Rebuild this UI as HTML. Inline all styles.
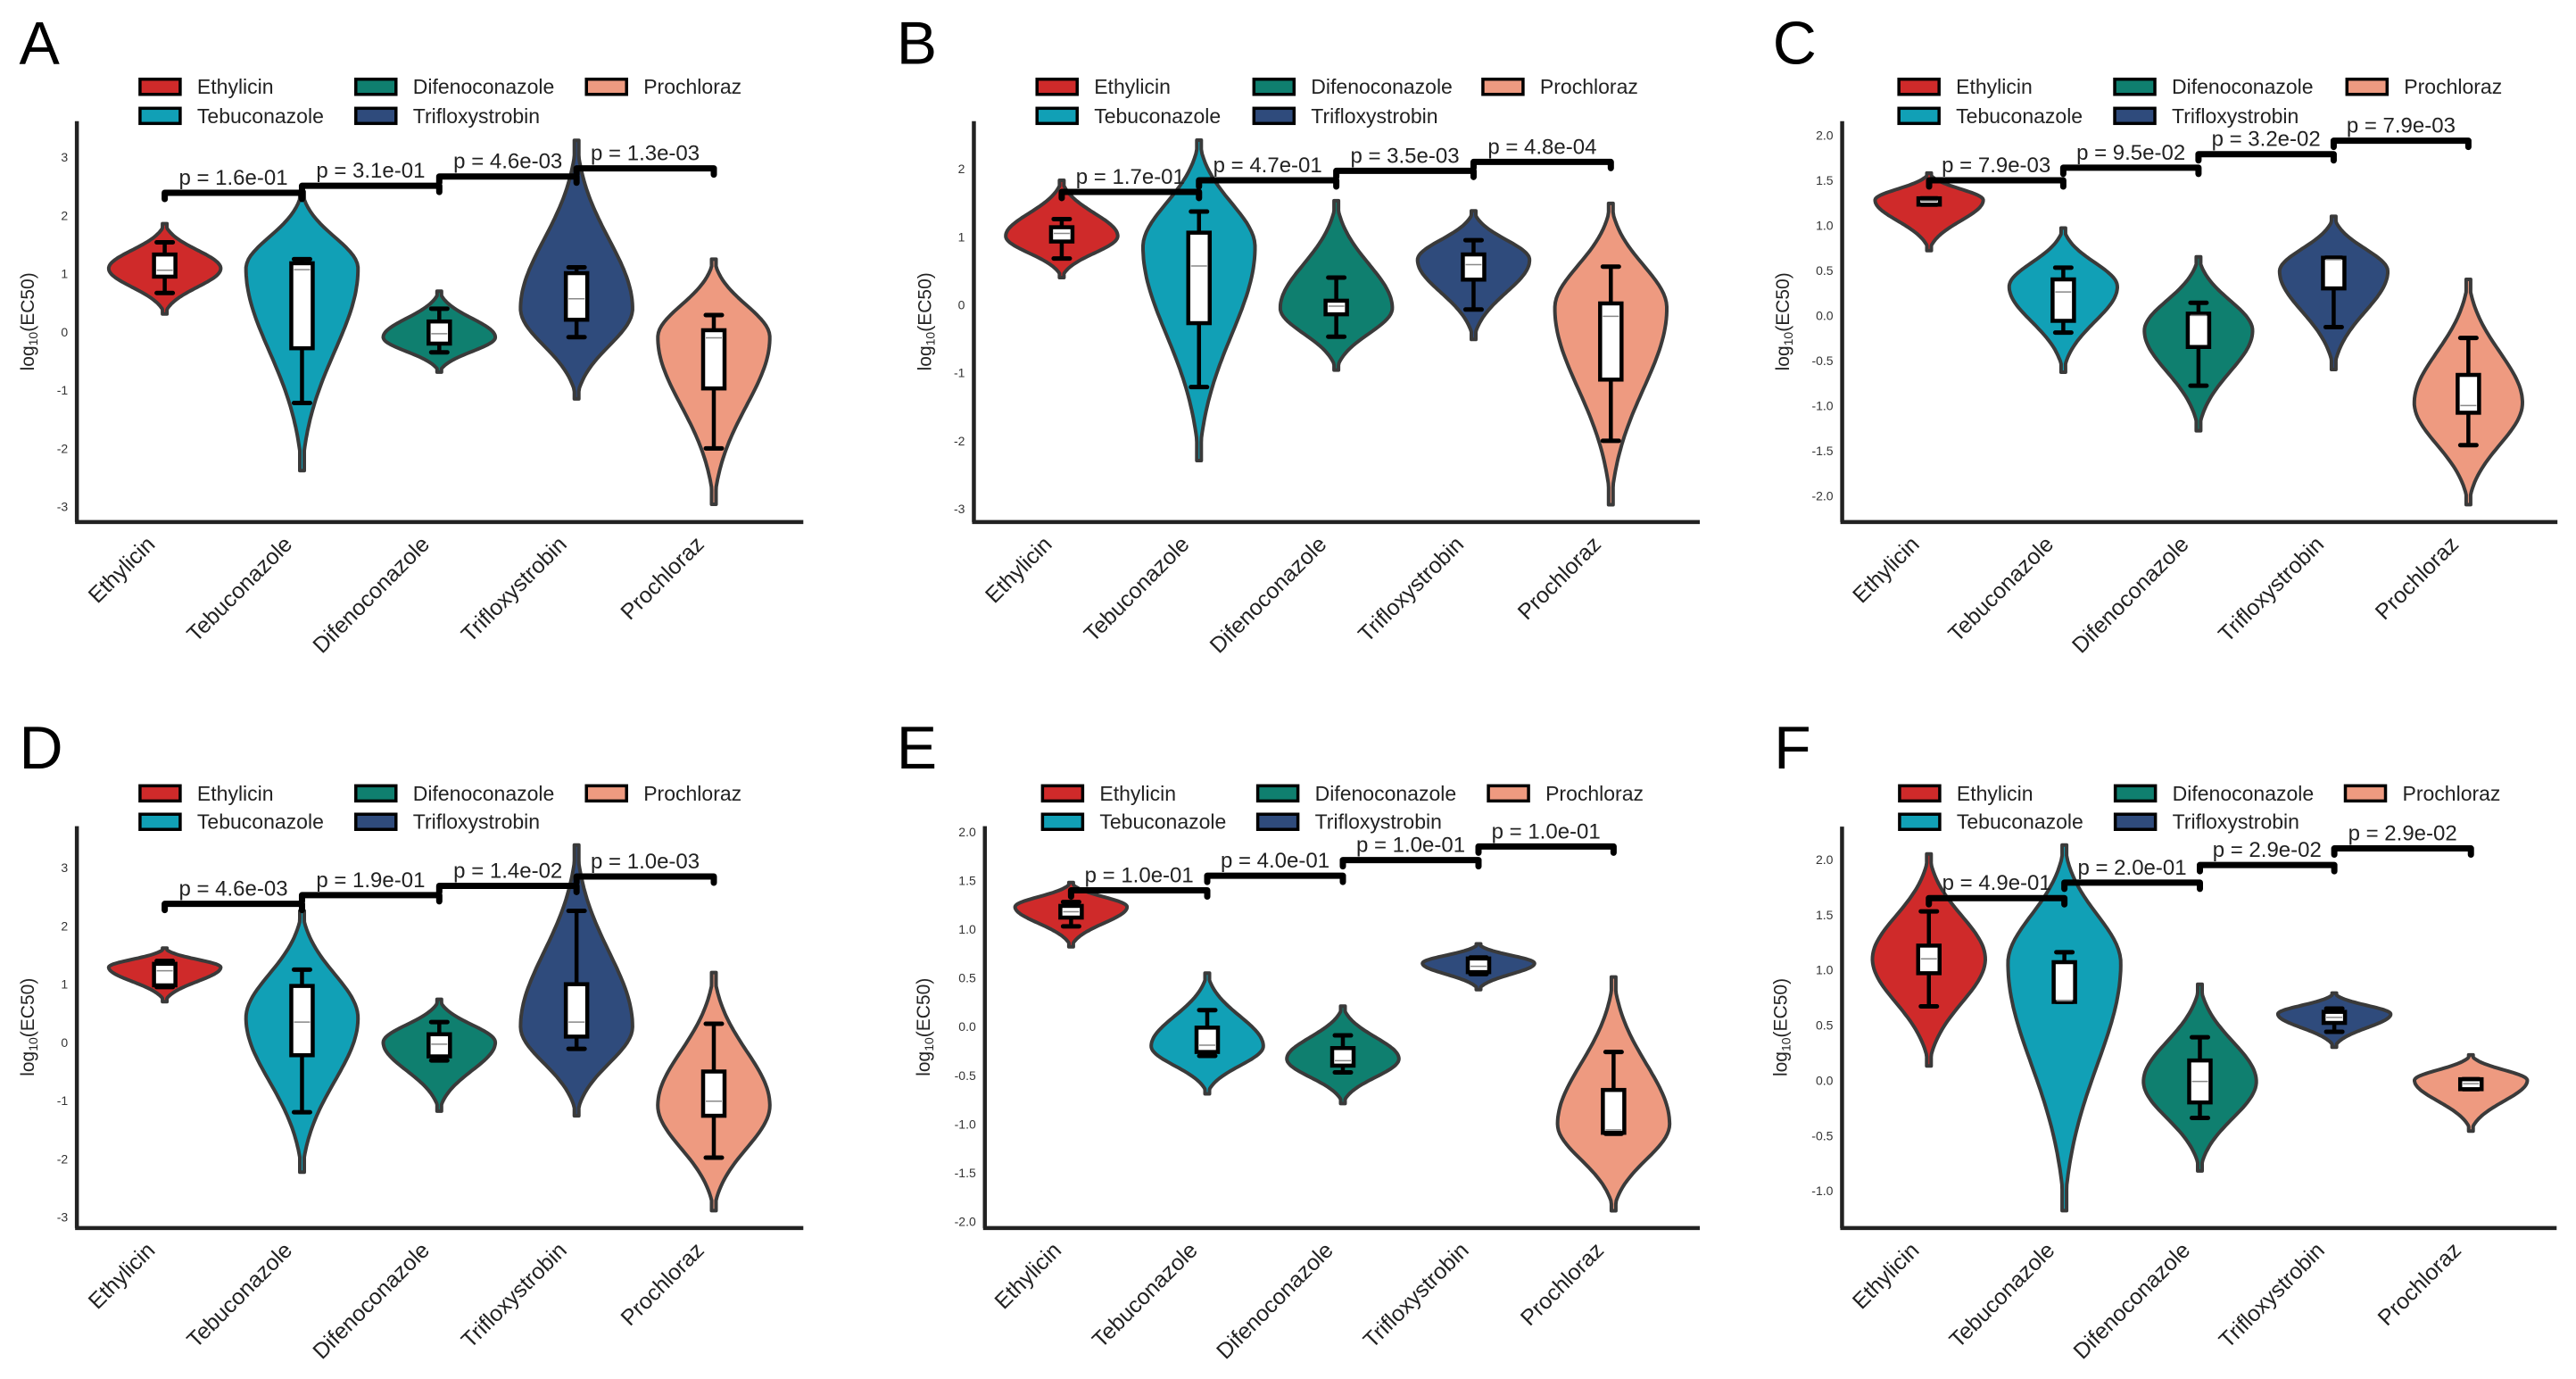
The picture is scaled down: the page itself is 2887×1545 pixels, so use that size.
<!DOCTYPE html>
<html><head><meta charset="utf-8"><style>
html,body{margin:0;padding:0;background:#fff;}
svg{display:block;font-family:"Liberation Sans",Arial,sans-serif;}
</style></head><body>
<svg id="fig" xmlns="http://www.w3.org/2000/svg" width="2887" height="1545" viewBox="0 0 2887 1545"></svg>
<script>
const categories = ["Ethylicin","Tebuconazole","Difenoconazole","Trifloxystrobin","Prochloraz"];
const colors = ["#cf2a2a","#11a0b6","#0f7f6f","#2f4b7c","#ee9a80"];
// Panel A
const aMin=[0.31,-2.38,-0.69,-1.15,-2.96], aMax=[1.86,2.41,0.70,3.29,1.25], aMode=[1.09,1.09,-0.09,0.40,-0.09];
const aQ1=[0.95,-0.28,-0.20,0.21,-0.97], aMed=[1.06,1.07,-0.03,0.57,-0.10], aQ3=[1.33,1.18,0.18,1.01,0.03];
const aWlo=[0.67,-1.22,-0.35,-0.09,-2.0], aWhi=[1.54,1.25,0.40,1.11,0.29];
const aBr=[2.39,2.51,2.67,2.81], aP=["1.6e-01","3.1e-01","4.6e-03","1.3e-03"];
const aTicks=[-3,-2,-1,0,1,2,3];
// Panel B
const bMin=[0.40,-2.29,-0.96,-0.51,-2.94], bMax=[1.83,2.42,1.53,1.38,1.49], bMode=[1.01,0.85,-0.05,0.66,-0.05];
const bQ1=[0.93,-0.27,-0.14,0.37,-1.10], bMed=[1.05,0.57,-0.02,0.59,-0.17], bQ3=[1.14,1.06,0.06,0.74,0.02];
const bWlo=[0.68,-1.21,-0.47,-0.07,-2.0], bWhi=[1.26,1.37,0.40,0.95,0.56];
const bBr=[1.66,1.83,1.97,2.10], bP=["1.7e-01","4.7e-01","3.5e-03","4.8e-04"];
const bTicks=[-3,-2,-1,0,1,2];
// Panel C
const cMin=[0.72,-0.63,-1.28,-0.60,-2.10], cMax=[1.58,0.97,0.65,1.10,0.40], cMode=[1.28,0.32,-0.17,0.49,-0.97];
const cQ1=[1.23,-0.06,-0.35,0.30,-1.08], cMed=[1.27,0.26,0.0,0.62,-1.0], cQ3=[1.30,0.40,0.02,0.64,-0.66];
const cWlo=[1.23,-0.19,-0.78,-0.13,-1.44], cWhi=[1.30,0.53,0.14,0.64,-0.25];
const cBr=[1.50,1.64,1.79,1.94], cP=["7.9e-03","9.5e-02","3.2e-02","7.9e-03"];
const cTicks=[-2.0,-1.5,-1.0,-0.5,0.0,0.5,1.0,1.5,2.0];
// Panel D
const dMin=[0.70,-2.23,-1.18,-1.26,-2.89], dMax=[1.62,2.26,0.74,3.39,1.20], dMode=[1.29,0.42,0.0,0.27,-1.08];
const dQ1=[0.98,-0.22,-0.24,0.10,-1.26], dMed=[1.23,0.35,-0.03,0.35,-1.01], dQ3=[1.35,0.97,0.14,1.0,-0.50];
const dWlo=[0.95,-1.2,-0.31,-0.11,-1.98], dWhi=[1.40,1.25,0.35,2.26,0.32];
const dBr=[2.38,2.53,2.69,2.85], dP=["4.6e-03","1.9e-01","1.4e-02","1.0e-03"];
const dTicks=[-3,-2,-1,0,1,2,3];
// Panel E
const eMin=[0.82,-0.69,-0.79,0.38,-1.89], eMax=[1.48,0.55,0.21,0.85,0.51], eMode=[1.23,-0.20,-0.33,0.65,-1.0];
const eQ1=[1.12,-0.26,-0.40,0.56,-1.09], eMed=[1.18,-0.19,-0.35,0.62,-1.06], eQ3=[1.24,-0.01,-0.22,0.70,-0.65];
const eWlo=[1.03,-0.30,-0.47,0.54,-1.10], eWhi=[1.28,0.17,-0.09,0.71,-0.26];
const eBr=[1.40,1.55,1.71,1.85], eP=["1.0e-01","4.0e-01","1.0e-01","1.0e-01"];
const eTicks=[-2.0,-1.5,-1.0,-0.5,0.0,0.5,1.0,1.5,2.0];
// Panel F
const fMin=[0.13,-1.18,-0.82,0.30,-0.46], fMax=[2.05,2.13,0.87,0.79,0.23], fMode=[1.10,1.06,-0.01,0.60,0.0];
const fQ1=[0.97,0.71,-0.20,0.52,-0.08], fMed=[1.10,0.72,-0.01,0.57,-0.03], fQ3=[1.22,1.07,0.18,0.62,0.01];
const fWlo=[0.67,0.71,-0.34,0.44,-0.08], fWhi=[1.53,1.16,0.39,0.65,0.01];
const fBr=[1.65,1.79,1.95,2.10], fP=["4.9e-01","2.0e-01","2.9e-02","2.9e-02"];
const fTicks=[-1.0,-0.5,0.0,0.5,1.0,1.5,2.0];

const NS="http://www.w3.org/2000/svg";
const fig=document.getElementById('fig');
function mk(tag,attrs,parent){const e=document.createElementNS(NS,tag);for(const k in attrs)e.setAttribute(k,attrs[k]);(parent||fig).appendChild(e);return e;}

const panels=[
 {L:"A",cx:0,cy:0,cw:960,ch:770,ax:140,top:275,bot:1185,right:1463,t0:3,t0y:357,t1:-3,t1y:1150,cats:[300,550,800,1050,1300],leg:[255,648,1068],r1:197,r2:263,lx:35,ly:145,dec:false,
  mn:aMin,mx:aMax,mo:aMode,q1:aQ1,md:aMed,q3:aQ3,wl:aWlo,wh:aWhi,br:aBr,p:aP,ticks:aTicks},
 {L:"B",cx:985,cy:0,cw:960,ch:770,ax:173,top:275,bot:1185,right:1495,t0:2,t0y:383,t1:-3,t1y:1155,cats:[333,583,833,1083,1333],leg:[288,683,1100],r1:197,r2:263,lx:32,ly:145,dec:false,
  mn:bMin,mx:bMax,mo:bMode,q1:bQ1,md:bMed,q3:bQ3,wl:bWlo,wh:bWhi,br:bBr,p:bP,ticks:bTicks},
 {L:"C",cx:1960,cy:0,cw:927,ch:770,ax:176,top:275,bot:1185,right:1525,t0:2,t0y:307,t1:-2,t1y:1125,cats:[340,593,848,1103,1357],leg:[283,690,1128],r1:197,r2:263,lx:45,ly:145,dec:true,
  mn:cMin,mx:cMax,mo:cMode,q1:cQ1,md:cMed,q3:cQ3,wl:cWlo,wh:cWhi,br:cBr,p:cP,ticks:cTicks},
 {L:"D",cx:0,cy:780,cw:960,ch:765,ax:140,top:297,bot:1215,right:1463,t0:3,t0y:392,t1:-3,t1y:1190,cats:[300,550,800,1050,1300],leg:[255,648,1068],r1:222,r2:287,lx:35,ly:165,dec:false,
  mn:dMin,mx:dMax,mo:dMode,q1:dQ1,md:dMed,q3:dQ3,wl:dWlo,wh:dWhi,br:dBr,p:dP,ticks:dTicks},
 {L:"E",cx:985,cy:780,cw:960,ch:765,ax:193,top:297,bot:1215,right:1495,t0:2,t0y:310,t1:-2,t1y:1200,cats:[350,598,845,1092,1338],leg:[298,690,1110],r1:222,r2:287,lx:32,ly:165,dec:true,
  mn:eMin,mx:eMax,mo:eMode,q1:eQ1,md:eMed,q3:eQ3,wl:eWlo,wh:eWhi,br:eBr,p:eP,ticks:eTicks},
 {L:"F",cx:1920,cy:780,cw:967,ch:765,ax:233,top:298,bot:1215,right:1525,t0:2,t0y:373,t1:-1,t1y:1130,cats:[390,635,880,1123,1370],leg:[337,727,1143],r1:222,r2:287,lx:110,ly:165,dec:true,
  mn:fMin,mx:fMax,mo:fMode,q1:fQ1,md:fMed,q3:fQ3,wl:fWlo,wh:fWhi,br:fBr,p:fP,ticks:fTicks}
];

panels.forEach(P=>{
  const X=zx=>P.cx+zx*P.cw/1560;
  const Yz=zy=>P.cy+zy*P.ch/1560;
  const unit=(P.t1y-P.t0y)/(P.t0-P.t1);
  const yv=v=>Yz(P.t0y+(P.t0-v)*unit);
  const g=mk('g',{});
  
  
  const lt=mk('text',{x:X(P.lx),y:Yz(P.ly),'font-size':68,fill:'#000'},g);
  lt.textContent=P.L;
  
  
  categories.forEach((c,i)=>{
    const row=i%2, col=Math.floor(i/2);
    const sx=X(P.leg[col]), cyy=Yz(row?P.r2:P.r1);
    const lg=mk('g',{},g);
    
    
    mk('rect',{x:sx,y:cyy-8.5,width:45,height:17,fill:colors[i],stroke:'#000','stroke-width':3.5},lg);
    const t=mk('text',{x:sx+64,y:cyy+8,'font-size':23,fill:'#222'},lg);
    t.textContent=c;
  });
  const axX=X(P.ax), axB=Yz(P.bot);
  const yAxis=mk('line',{x1:axX,y1:Yz(P.top),x2:axX,y2:axB,stroke:'#222','stroke-width':4.5},g);
  
  
  const xAxis=mk('line',{x1:axX-2,y1:axB,x2:X(P.right),y2:axB,stroke:'#222','stroke-width':4.5},g);
  
  
  P.ticks.forEach(v=>{
    const t=mk('text',{x:axX-10,y:yv(v)+5,'font-size':14,'text-anchor':'end',fill:'#333'},g);
    t.textContent=P.dec?v.toFixed(1):String(v);
    
    
  });
  const ylx=X(P.ax-(P.dec?100:78)), yly=(Yz(P.top)+axB)/2;
  const yl=mk('text',{x:ylx,y:yly,'font-size':21,'text-anchor':'middle',fill:'#222',transform:`rotate(-90 ${ylx} ${yly})`},g);
  
  
  yl.innerHTML='log<tspan font-size="14" dy="4">10</tspan><tspan dy="-4">(EC50)</tspan>';
  const HW=102*P.cw/1560;
  categories.forEach((c,i)=>{
    const cx=X(P.cats[i]);
    const mn=P.mn[i], mx=P.mx[i], mo=P.mo[i];
    const k=3, e=Math.exp(-k);
    const wAt=v=>{const d=v>=mo?(v-mo)/(mx-mo):(mo-v)/(mo-mn);return Math.max(2.5,HW*(Math.exp(-k*d*d)-e)/(1-e));};
    const N=70, left=[], right=[];
    for(let j=0;j<=N;j++){const v=mx-(mx-mn)*j/N;const w=wAt(v);const y=yv(v);right.push([cx+w,y]);left.push([cx-w,y]);}
    const pts=right.concat(left.reverse());
    const d='M'+pts.map(p=>p[0].toFixed(1)+','+p[1].toFixed(1)).join('L')+'Z';
    const vp=mk('path',{d:d,fill:colors[i],stroke:'#3a3a3a','stroke-width':4,'stroke-linejoin':'round'},g);
    
    
    const bw=24;
    const wk=mk('line',{x1:cx,y1:yv(P.wh[i]),x2:cx,y2:yv(P.wl[i]),stroke:'#000','stroke-width':4.5},g);
    
    
    [P.wh[i],P.wl[i]].forEach(v=>{mk('line',{x1:cx-9,y1:yv(v),x2:cx+9,y2:yv(v),stroke:'#000','stroke-width':5,'stroke-linecap':'round'},g);});
    const yTop=yv(P.q3[i]), yBot=yv(P.q1[i]);
    const bx=mk('rect',{x:cx-bw/2,y:yTop,width:bw,height:Math.max(1,yBot-yTop),fill:'#fff',stroke:'#000','stroke-width':4.5},g);
    
    
    mk('line',{x1:cx-bw/2+3,y1:yv(P.md[i]),x2:cx+bw/2-3,y2:yv(P.md[i]),stroke:'#888','stroke-width':1.5},g);
    const tx=cx-22, ty=axB+14;
    const xl=mk('text',{x:tx,y:ty,'font-size':25,'text-anchor':'end',fill:'#222',transform:`rotate(-45 ${tx} ${ty})`,'dominant-baseline':'hanging'},g);
    xl.textContent=c;
    
    
  });
  P.br.forEach((v,i)=>{
    const x1=X(P.cats[i]), x2=X(P.cats[i+1]), y=yv(v);
    const bg=mk('g',{},g);
    
    
    mk('path',{d:`M${x1},${y+7}L${x1},${y}L${x2},${y}L${x2},${y+7}`,fill:'none',stroke:'#000','stroke-width':7,'stroke-linejoin':'round','stroke-linecap':'round'},bg);
    const t=mk('text',{x:(x1+x2)/2,y:y-9,'font-size':24,'text-anchor':'middle',fill:'#222'},bg);
    t.textContent='p = '+P.p[i];
  });
});
</script>
</body></html>
